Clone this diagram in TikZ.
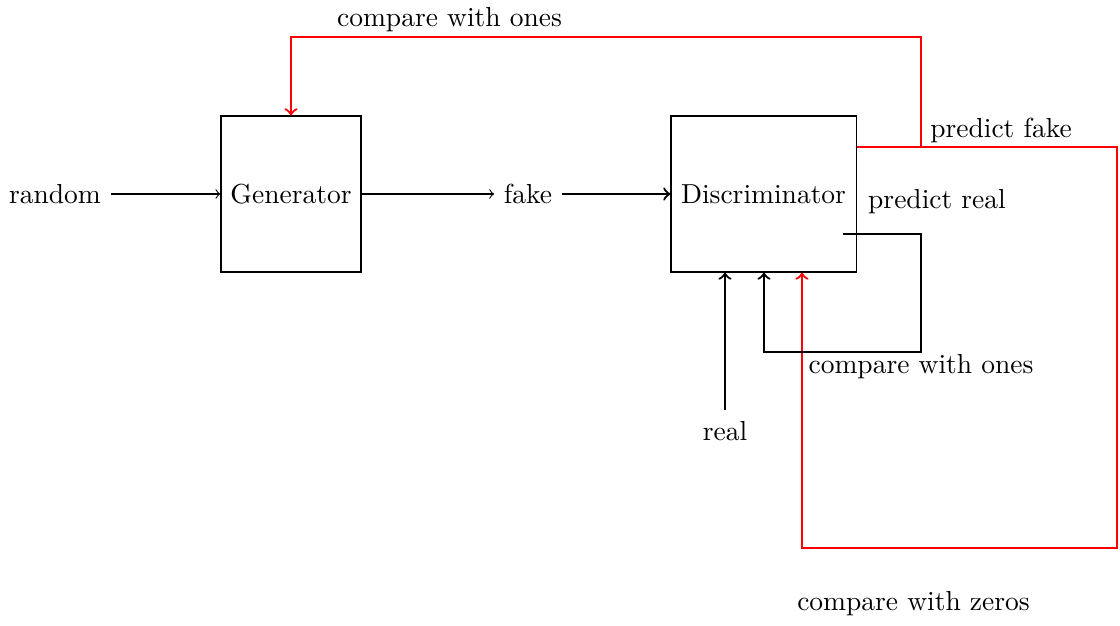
\documentclass[tikz,border=0pt]{standalone}
\usetikzlibrary{calc}
\begin{document}
\begin{tikzpicture}[x=0.3636pt,y=-0.3636pt,
  box/.style={draw,inner sep=0pt},
  lbl/.style={anchor=base,inner sep=0pt},
  thinarrow/.style={->},
  thickarrow/.style={->,thick},
  redarrow/.style={->,thick,red},
  redline/.style={thick,red}]
\useasboundingbox (0,0) rectangle (1120,626);
\node (random) at (55,194) {random};
\node[box,minimum width=50.9pt,minimum height=56.7pt] (gen) at (291,194) {Generator};
\node (fake) at (528,194) {fake};
\node[box,minimum width=67.3pt,minimum height=56.7pt] (disc) at (763.5,194) {Discriminator};
\node[lbl] (real) at (725,441) {real};
\node[lbl] (pfake) at (1001,138) {predict fake};
\node[lbl] (preal) at (937,209) {predict real};
\node[lbl] (cones1) at (449.5,27) {compare with ones};
\node[lbl] (cones2) at (921,374) {compare with ones};
\node[lbl] (czeros) at (913.5,611) {compare with zeros};
\coordinate (pf) at (921,147);
\coordinate (ptop) at (921,37);
\coordinate (rcorner) at (1117,147);
\coordinate (zc) at (802,548);
\coordinate (pr) at (843,234);
\coordinate (prc) at (921,234);
\coordinate (loopb) at (764,352);
\coordinate (realstart) at (725,410);
\draw[thinarrow] (random) -- (gen);
\draw[thinarrow] (gen) -- (fake);
\draw[thickarrow] (fake) -- (disc);
\draw[redarrow] (disc.east |- pf) -- (pf) -- (ptop) -| (gen.north);
\draw[redarrow] (disc.east |- pf) -- (rcorner) |- (zc) -- (zc |- disc.south);
\draw[thickarrow] (pr) -- (prc) |- (loopb) -- (loopb |- disc.south);
\draw[thickarrow] (realstart) -- (realstart |- disc.south);
\end{tikzpicture}
\end{document}
